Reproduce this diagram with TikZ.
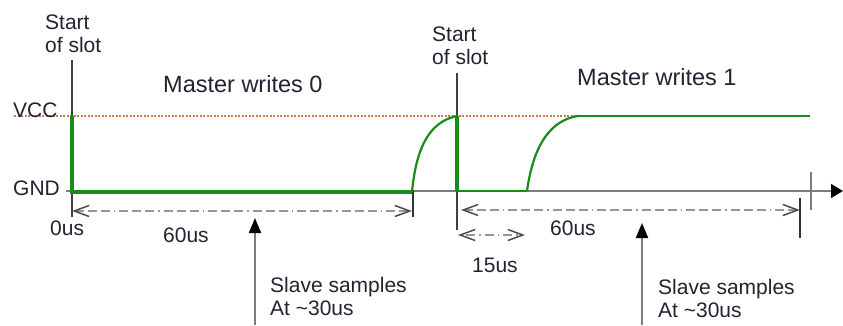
\documentclass[tikz,border=0pt]{standalone}
\usepackage{fontspec}
\setmainfont{Liberation Sans}
\usetikzlibrary{arrows.meta}
\definecolor{wave}{RGB}{25,140,25}
\definecolor{txt}{RGB}{35,35,50}
\definecolor{vccdot}{RGB}{195,125,85}
\definecolor{axisgray}{RGB}{125,125,125}
\definecolor{dimgray}{RGB}{150,150,150}
\tikzset{
  lbl/.style={font=\fontsize{21}{23}\selectfont, text=txt, inner sep=0pt, align=left},
  bigl/.style={font=\fontsize{23.5}{26}\selectfont, text=txt, inner sep=0pt},
  slotline/.style={draw=black!75, line width=1.3pt},
  tickline/.style={draw=black!80, line width=1.1pt},
  wavethick/.style={draw=wave, line width=3.2pt},
  wavethin/.style={draw=wave, line width=2.2pt},
  dimline/.style={draw=dimgray, line width=1.4pt,
     dash pattern=on 9pt off 4pt on 9pt off 4pt on 9pt off 4pt on 1.5pt off 4pt,
     {Straight Barb[length=15pt,width=11pt,color=black!70,line width=1.5pt]}-{Straight Barb[length=15pt,width=11pt,color=black!70,line width=1.5pt]}},
  samplearrow/.style={draw=axisgray, line width=2pt, -{Triangle[length=15pt,width=12pt,color=black]}}
}
\begin{document}
\begin{tikzpicture}[x=1pt,y=-1pt]
\useasboundingbox (0,0) rectangle (843,325);
\fill[white] (0,0) rectangle (843,325);

% coordinates
\coordinate (vccL) at (14,116);
\coordinate (vccR) at (578,116);
\coordinate (axL) at (66,191);
\coordinate (axR) at (843,191);
\coordinate (s1t) at (72,60);
\coordinate (s1b) at (72,217);
\coordinate (s2t) at (457,73);
\coordinate (s2b) at (457,230);
\coordinate (t1t) at (413,190);
\coordinate (t1b) at (413,217);
\coordinate (t2t) at (811,172);
\coordinate (t2b) at (811,210);
\coordinate (t3t) at (800,198);
\coordinate (t3b) at (800,238);

% VCC dotted reference
\draw[vccdot, line width=1.3pt, dash pattern=on 2pt off 1.5pt] (vccL) -- (vccR);

% time axis
\draw[axisgray, line width=1.4pt, -{Triangle[length=12pt,width=14pt,color=black]}] (axL) -- (axR);

% slot lines and ticks
\draw[slotline] (s1t) -- (s1b);
\draw[slotline] (s2t) -- (s2b);
\draw[tickline] (t1t) -- (t1b);
\draw[draw=axisgray, line width=1.5pt] (t2t) -- (t2b);
\draw[tickline] (t3t) -- (t3b);

% waveform
\coordinate (w0) at (72,116);
\coordinate (w1) at (72,192);
\coordinate (w2) at (412,192);
\coordinate (w3) at (457,116);
\coordinate (w4) at (457,191);
\coordinate (w5) at (527,191);
\coordinate (w6) at (578,116);
\coordinate (w7) at (810,116);
\draw[wavethick, line cap=butt] (w0) -- (w1) -- (w2);
\draw[wavethin] (w2) .. controls (416,150) and (428,122) .. (w3);
\draw[wavethick, line width=3.6pt] (w3) -- (w4);
\draw[wavethin, line width=2.6pt] (w4) -- (w5);
\draw[wavethin] (w5) .. controls (532,155) and (545,121) .. (w6);
\draw[wavethin, line width=2.4pt] (w6) -- (w7);

% dimension lines
\coordinate (d1a) at (72,211);
\coordinate (d1b) at (412,211);
\coordinate (d2a) at (461,210);
\coordinate (d2b) at (800,210);
\coordinate (d3a) at (458,235);
\coordinate (d3b) at (525,235);
\draw[dimline] (d1a) -- (d1b);
\draw[dimline] (d2a) -- (d2b);
\draw[dimline, dash pattern=on 1.5pt off 4pt on 9pt off 4pt] (d3a) -- (d3b);

% sample arrows
\coordinate (a1b) at (255,325);
\coordinate (a1t) at (255,218);
\coordinate (a2b) at (642,325);
\coordinate (a2t) at (642,223);
\draw[samplearrow] (a1b) -- (a1t);
\draw[samplearrow] (a2b) -- (a2t);

% labels (base anchor = baseline of last line)
\node[lbl, anchor=base west] (start1) at (45,52) {Start\\of slot};
\node[lbl, anchor=base west] (start2) at (432,64) {Start\\of slot};
\node[bigl, anchor=base west] (mw0) at (163,92) {Master writes 0};
\node[bigl, anchor=base west] (mw1) at (577,85) {Master writes 1};
\node[lbl, anchor=base west] (vcc) at (13,117) {VCC};
\node[lbl, anchor=base west] (gnd) at (13,195) {GND};
\node[lbl, anchor=base west] (us0) at (50,235) {0us};
\node[lbl, anchor=base west] (us60a) at (163,242) {60us};
\node[lbl, anchor=base west] (us60b) at (550,235) {60us};
\node[lbl, anchor=base west] (us15) at (472,272) {15us};
\node[lbl, anchor=base west] (ss1) at (270,315) {Slave samples\\At \textasciitilde30us};
\node[lbl, anchor=base west] (ss2) at (658,317) {Slave samples\\At \textasciitilde30us};
\end{tikzpicture}
\end{document}
